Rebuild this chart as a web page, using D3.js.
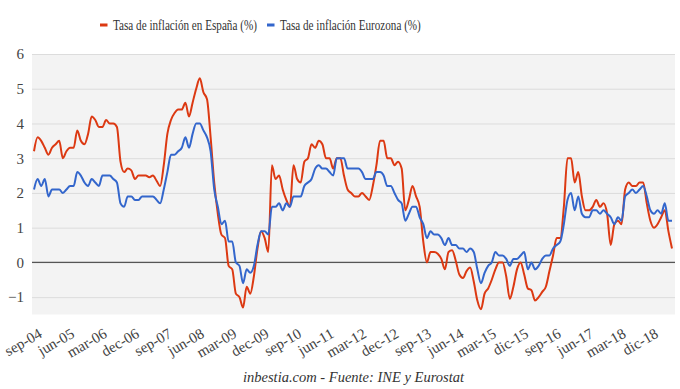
<!DOCTYPE html>
<html lang="es">
  <head>
    <meta charset="utf-8" />
    <title>Tasa de inflación España vs Eurozona</title>
    <script src="https://cdnjs.cloudflare.com/ajax/libs/d3/7.8.5/d3.min.js"></script>
    <style type="text/css">
      body {
        margin: 0;
        background: #fff;
      }
      .grid line {
        stroke: #dcdcdc;
        stroke-width: 1;
      }
      .zero {
        stroke: #555;
        stroke-width: 1.3;
      }
      .line {
        fill: none;
        stroke-width: 2;
      }
    </style>
  </head>

  <body>
    <div id="chart"></div>

    <script>
      // Meses: sep-2004 ... jun-2019
      const months = d3.timeMonth.range(new Date(2004, 8, 1), new Date(2019, 6, 1));

      // Tasa de inflación en España (%)
      const spain = [
        3.2, 3.6, 3.5, 3.3, 3.1, 3.3, 3.4, 3.5, 3.0, 3.2, 3.3, 3.3,
        3.8, 3.5, 3.4, 3.7, 4.2, 4.1, 3.9, 3.9, 4.1, 4.0, 4.0, 3.9,
        2.9, 2.6, 2.7, 2.65, 2.4, 2.5, 2.5, 2.5, 2.45, 2.5, 2.35, 2.2,
        2.8, 3.7, 4.1, 4.3, 4.4, 4.4, 4.6, 4.2, 4.6, 5.0, 5.3, 4.9,
        4.7, 3.6, 2.3, 1.4, 0.8, 0.7, -0.1, -0.2, -0.9, -1.0, -1.3, -0.7,
        -0.9, -0.4, 0.4, 0.9, 0.7, 0.3, 2.8, 2.4, 2.5, 2.1, 1.8, 1.6,
        2.8, 2.4, 2.3, 2.9, 3.0, 3.4, 3.3, 3.5, 3.4, 3.0, 3.0, 2.7,
        3.0, 3.0, 2.5, 2.1, 2.0, 1.9, 1.9, 2.0, 1.9, 1.8, 2.2, 2.8,
        3.5, 3.5, 3.0, 3.0, 2.8, 2.9, 2.7, 1.5, 1.8, 2.2, 1.9, 1.6,
        0.6, 0.0, 0.3, 0.3, 0.25, 0.1, -0.2, 0.3, 0.35, 0.05, -0.35, -0.45,
        -0.25, -0.15, -0.55, -1.1, -1.35, -0.9, -0.75, -0.5, -0.2, 0.0, 0.0, -0.4,
        -1.05, -0.7, -0.2, 0.0, -0.35, -0.75, -0.8, -1.1, -1.0, -0.85, -0.7, -0.25,
        0.2, 0.7, 0.7, 1.6, 3.0, 3.0, 2.3, 2.6, 1.9, 1.5, 1.5, 1.6,
        1.8, 1.6, 1.7, 1.4, 0.5, 1.1, 1.2, 1.1, 2.1, 2.3, 2.2, 2.2,
        2.3, 2.3, 1.7, 1.2, 1.0, 1.1, 1.3, 1.5, 0.9, 0.4
      ];

      // Tasa de inflación Eurozona (%)
      const eurozone = [
        2.1, 2.4, 2.2, 2.4, 1.9, 2.1, 2.1, 2.1, 2.0, 2.1, 2.2, 2.2,
        2.6, 2.5, 2.3, 2.2, 2.4, 2.3, 2.2, 2.5, 2.5, 2.5, 2.4, 2.3,
        1.7, 1.6, 1.9, 1.9, 1.8, 1.8, 1.9, 1.9, 1.9, 1.9, 1.8, 1.7,
        2.1, 2.6, 3.1, 3.1, 3.2, 3.3, 3.6, 3.3, 3.7, 4.0, 4.0, 3.8,
        3.6, 3.2, 2.1, 1.6, 1.1, 1.2, 0.6, 0.6, 0.0, -0.1, -0.6, -0.2,
        -0.3, -0.1, 0.5, 0.9, 0.9, 0.8, 1.6, 1.6, 1.7, 1.5, 1.7, 1.6,
        1.9, 1.9, 1.9, 2.2, 2.3, 2.4, 2.7, 2.8, 2.7, 2.7, 2.6, 2.5,
        3.0, 3.0, 3.0, 2.7, 2.7, 2.7, 2.7, 2.6, 2.4, 2.4, 2.4, 2.6,
        2.6, 2.5, 2.2, 2.2, 2.0, 1.8, 1.7, 1.2, 1.4, 1.6, 1.6, 1.3,
        1.1, 0.7, 0.9, 0.8, 0.8, 0.7, 0.5, 0.7, 0.5, 0.5, 0.4, 0.4,
        0.3, 0.4, 0.3, -0.2, -0.6, -0.3, -0.1, 0.0, 0.3, 0.2, 0.2, 0.1,
        -0.1, 0.1, 0.1, 0.2, 0.3, -0.2, 0.0, -0.2, -0.1, 0.1, 0.2, 0.2,
        0.4, 0.5, 0.6, 1.1, 1.8, 2.0, 1.5, 1.9, 1.4, 1.3, 1.3, 1.5,
        1.5, 1.4, 1.5, 1.4, 1.3, 1.1, 1.3, 1.2, 1.9, 2.0, 2.1, 2.0,
        2.1, 2.2, 1.9, 1.5, 1.4, 1.5, 1.4, 1.7, 1.2, 1.2
      ];

      // etiquetas del eje x (cada 9 meses)
      const tickLabels = [
        "sep-04", "jun-05", "mar-06", "dec-06", "sep-07", "jun-08", "mar-09",
        "dec-09", "sep-10", "jun-11", "mar-12", "dec-12", "sep-13", "jun-14",
        "mar-15", "dic-15", "sep-16", "jun-17", "mar-18", "dic-18"
      ];
      const yTicks = [-1, 0, 1, 2, 3, 4, 5, 6];

      const series = [
        { name: "Tasa de inflación en España (%)", color: "#dc3912", values: spain },
        { name: "Tasa de inflación Eurozona (%)", color: "#3366cc", values: eurozone },
      ];

      const serif = "'Liberation Serif', 'DejaVu Serif', serif";

      const width = 680;
      const height = 389;
      const plotLeft = 32;
      const plotRight = 675;
      const plotTop = 54;
      const plotBottom = 314.5;

      const svg = d3
        .select("#chart")
        .append("svg")
        .attr("width", width)
        .attr("height", height)
        .attr("viewBox", [0, 0, width, height]);

      const idx = d3.range(months.length);

      const x = d3.scalePoint().domain(idx).range([34, 672]);
      const y = d3.scaleLinear().domain([-1.5, 6]).range([plotBottom, plotTop]);

      // fondo del área
      svg.append("rect")
        .attr("x", plotLeft)
        .attr("y", plotTop)
        .attr("width", plotRight - plotLeft)
        .attr("height", plotBottom - plotTop)
        .attr("fill", "#f3f3f3");

      // rejilla + eje y
      const yAxis = d3.axisLeft(y)
        .tickValues(yTicks)
        .tickSize(-(plotRight - plotLeft))
        .tickFormat(d3.format("d"));

      svg.append("g")
        .attr("class", "grid")
        .attr("transform", `translate(${plotLeft},0)`)
        .call(yAxis)
        .call(g => g.select(".domain").remove())
        .call(g => g.selectAll(".tick text")
          .attr("x", -8)
          .attr("fill", "#444")
          .attr("font-size", 15)
          .style("font-family", serif));

      svg.append("line")
        .attr("class", "zero")
        .attr("x1", plotLeft)
        .attr("x2", plotRight)
        .attr("y1", y(0))
        .attr("y2", y(0));

      // líneas
      const line = d3.line()
        .x((d, i) => x(i))
        .y(d => y(d))
        .curve(d3.curveMonotoneX);

      svg.selectAll(".line")
        .data(series)
        .join("path")
        .attr("class", "line")
        .attr("stroke", d => d.color)
        .attr("d", d => line(d.values));

      // eje x: etiquetas inclinadas, cada una en su propio grupo rotado
      const tickIdx = tickLabels.map((_, k) => k * 9);
      svg.append("g")
        .attr("class", "x-labels")
        .selectAll("g")
        .data(tickIdx)
        .join("g")
        .attr("transform", d => `translate(${x(d) + 9},${plotBottom + 22}) rotate(-30)`)
        .append("text")
        .attr("text-anchor", "end")
        .attr("fill", "#444")
        .attr("font-size", 15)
        .style("font-family", serif)
        .text((d, k) => tickLabels[k]);

      // leyenda (texto estrechado horizontalmente como en el original)
      const legendItems = [
        { sx: 100, tx: 113, len: 144 },
        { sx: 267, tx: 280, len: 141 },
      ];
      const legend = svg.append("g");
      series.forEach((s, k) => {
        const it = legendItems[k];
        legend.append("rect")
          .attr("x", it.sx)
          .attr("y", 23.5)
          .attr("width", 7.5)
          .attr("height", 3)
          .attr("fill", s.color);
        const t = legend.append("g")
          .attr("transform", `translate(${it.tx},30)`)
          .append("text")
          .attr("font-size", 14)
          .attr("fill", "#333")
          .style("font-family", serif)
          .text(s.name);
        const natural = t.node().getComputedTextLength() || it.len;
        t.attr("transform", `scale(${it.len / natural},1)`);
      });

      // fuente
      svg.append("text")
        .attr("x", 353.5)
        .attr("y", 382)
        .attr("text-anchor", "middle")
        .attr("font-size", 14.5)
        .attr("font-style", "italic")
        .attr("fill", "#333")
        .style("font-family", serif)
        .text("inbestia.com - Fuente: INE y Eurostat");
    </script>
  </body>
</html>
